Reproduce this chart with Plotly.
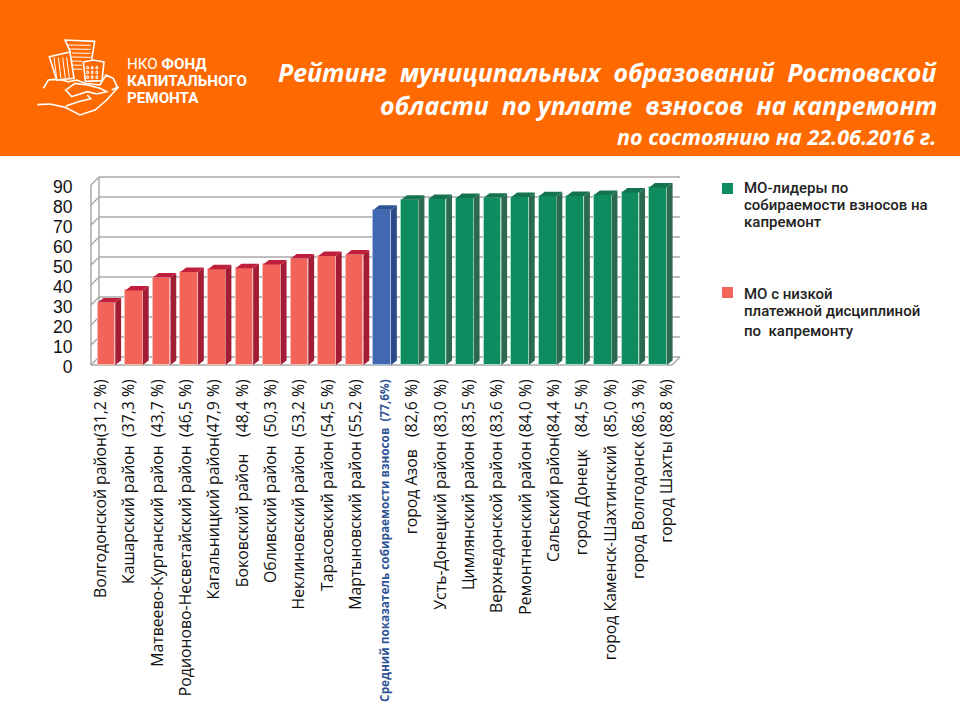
import plotly.graph_objects as go

NB = "\u00a0"
categories = [
    "Волгодонской район(31,2 %)", "Кашарский район  (37,3 %)", "Матвеево-Курганский район  (43,7 %)",
    "Родионово-Несветайский район  (46,5 %)", "Кагальницкий район(47,9 %)", "Боковский район    (48,4 %)",
    "Обливский район  (50,3 %)", "Неклиновский район  (53,2 %)", "Тарасовский район (54,5 %)",
    "Мартыновский район (55,2 %)", "Средний показатель собираемости взносов  (77,6%)", "город Азов   (82,6 %)",
    "Усть-Донецкий район (83,0 %)", "Цимлянский район (83,5 %)", "Верхнедонской район (83,6 %)",
    "Ремонтненский район (84,0 %)", "Сальский район(84,4 %)", "город Донецк   (84,5 %)",
    "город Каменск-Шахтинский  (85,0 %)", "город Волгодонск (86,3 %)", "город Шахты (88,8 %)",
]
values = [31.2, 37.3, 43.7, 46.5, 47.9, 48.4, 50.3, 53.2, 54.5, 55.2, 77.6,
          82.6, 83.0, 83.5, 83.6, 84.0, 84.4, 84.5, 85.0, 86.3, 88.8]
groups = ["low"] * 10 + ["avg"] + ["top"] * 10
y_ticks = [0, 10, 20, 30, 40, 50, 60, 70, 80, 90]
legend_top = ["МО-лидеры по", "собираемости взносов на", "капремонт"]
legend_low = ["МО с низкой", "платежной дисциплиной", "по" + NB + NB + "капремонту"]
title_lines = ["Рейтинг" + NB + NB + "муниципальных" + NB + NB + "образований" + NB + NB + "Ростовской",
               "области" + NB + NB + "по уплате" + NB + NB + "взносов" + NB + NB + "на капремонт"]
subtitle = "по состоянию на 22.06.2016 г."

COL = {
    "low": dict(front="#F2645A", edge="#F7B9B2", side="#A31C35", top="#BF1E3C"),
    "avg": dict(front="#4169B2", edge="#A9BCE0", side="#2A4A85", top="#2F5496"),
    "top": dict(front="#0F8C5F", edge="#A5DCC4", side="#2C6A50", top="#14734F"),
}
ORANGE = "#FF6A00"
GRID = "#A8A8A8"
W, H = 960, 720
PX0, PX1, PYB, PYT = 89, 683, 368, 175
UX, CAT0 = 27.575, 106.5   # px per category, px of first bar centre
UY, Y0 = 2.0, 365          # px per value unit, px of zero
WIDTH = 17.6 / UX
DX, DY = 5.8 / UX, 4.5 / UY
WX, WY = 8 / UX, 8 / UY    # depth of the chart walls
XL = (91 - CAT0) / UX
XR = (672 - CAT0) / UX
xs = list(range(len(values)))
tick_x = [((101 + i * 28.3) - CAT0) / UX for i in xs]

def fx(p): return p / W
def fy(p): return 1 - p / H

def ticklabel(i):
    t = categories[i].replace(" ", NB)
    if groups[i] == "avg":
        return '<b style="font-size:11.8px;color:#2F5496">' + t + '</b>'
    return t

fig = go.Figure()
fig.add_trace(go.Bar(x=xs, y=values, width=WIDTH,
                     marker=dict(color=[COL[g]["front"] for g in groups],
                                 line=dict(color=[COL[g]["edge"] for g in groups], width=1)),
                     showlegend=False))
for x, v, g in zip(xs, values, groups):
    r = x + WIDTH / 2
    l = x - WIDTH / 2
    fig.add_trace(go.Scatter(x=[r, r + DX, r + DX, r, r], y=[0, DY, v + DY, v, 0], mode="lines",
                             fill="toself", fillcolor=COL[g]["side"], line=dict(width=0), showlegend=False))
    fig.add_trace(go.Scatter(x=[l, l + DX, r + DX, r, l], y=[v, v + DY, v + DY, v, v], mode="lines",
                             fill="toself", fillcolor=COL[g]["top"], line=dict(width=0), showlegend=False))

shapes = [dict(type="rect", xref="paper", yref="paper", x0=0, x1=1, y0=fy(156), y1=1,
               fillcolor=ORANGE, line=dict(width=0), layer="below")]
grid_line = dict(color=GRID, width=1.5)
for t in y_ticks:
    for a, b, c, d in [(XL, t, XL + WX, t + WY), (XL + WX, t + WY, XR + WX, t + WY)]:
        shapes.append(dict(type="line", xref="x", yref="y", x0=a, y0=b, x1=c, y1=d, line=grid_line, layer="below"))
for a, b, c, d in [(XL, 0, XL, 90), (XL + WX, WY, XL + WX, 90 + WY), (XL, 0, XR, 0), (XR, 0, XR + WX, WY)]:
    shapes.append(dict(type="line", xref="x", yref="y", x0=a, y0=b, x1=c, y1=d, line=grid_line, layer="below"))

# legend swatches
shapes.append(dict(type="rect", xref="paper", yref="paper", x0=fx(722), x1=fx(733), y0=fy(194), y1=fy(183),
                   fillcolor=COL["top"]["front"], line=dict(width=0)))
shapes.append(dict(type="rect", xref="paper", yref="paper", x0=fx(722), x1=fx(733), y0=fy(298), y1=fy(287),
                   fillcolor=COL["low"]["front"], line=dict(width=0)))

# logo drawing (white line art), px/3 coordinates from the header
def logo(points, closed=False, w=1.6):
    d = ""
    for i, (a, b) in enumerate(points):
        d += ("M" if i == 0 else "L") + f"{fx(a / 3):.5f},{fy(b / 3):.5f} "
    if closed:
        d += "Z"
    shapes.append(dict(type="path", xref="paper", yref="paper", path=d, line=dict(color="white", width=w)))

logo([(212, 158), (195, 120), (284, 124), (275, 178)])
for yy in range(135, 215, 12):
    logo([(216 if yy > 150 else 204, yy), (272 if yy < 180 else 246, yy + 1)], w=1)
logo([(148, 170), (210, 156), (222, 235), (170, 240)], closed=True)
for xx in (162, 175, 188, 200):
    logo([(xx, 172), (xx + 8, 235)], w=1)
logo([(250, 186), (280, 180), (312, 186), (306, 242), (256, 244)], closed=True)
for yy in (200, 214, 228):
    for xx in (260, 274, 288):
        logo([(xx, yy), (xx + 5, yy), (xx + 5, yy + 7), (xx, yy + 7)], closed=True, w=1)
logo([(130, 265), (145, 240), (165, 238), (185, 240), (205, 245), (230, 240), (255, 250), (300, 255), (318, 225),
      (340, 235), (352, 262), (335, 270)])
logo([(200, 268), (225, 250), (262, 255), (300, 265), (320, 275), (290, 282), (262, 275), (215, 290), (195, 268)])
logo([(112, 314), (150, 312), (195, 322), (240, 345), (285, 330), (320, 300), (356, 260)])
logo([(198, 318), (235, 305), (272, 296), (262, 285)])

def note(text, x, y, size, color="white", font="Open Sans", weight=None, xanchor="left"):
    f = dict(family=font, size=size, color=color)
    if weight:
        f["weight"] = weight
    return dict(text=text, xref="paper", yref="paper", x=fx(x), y=fy(y), xanchor=xanchor, yanchor="middle",
                showarrow=False, font=f, align=xanchor)

anns = [
    note("<b><i>" + title_lines[0] + "</i></b>", 939, 72, 24.9, xanchor="right"),
    note("<b><i>" + title_lines[1] + "</i></b>", 939, 105, 24.9, xanchor="right"),
    note("<b><i>" + subtitle + "</i></b>", 938, 136, 21.5, xanchor="right"),
    note("НКО <b>ФОНД</b>", 125, 64, 15.2, font="Roboto"),
    note("<b>КАПИТАЛЬНОГО</b>", 125, 81, 15.2, font="Roboto"),
    note("<b>РЕМОНТА</b>", 125, 98, 15.2, font="Roboto"),
]
for t, y in zip(legend_top, [188, 204.5, 221.8]):
    anns.append(note(t, 741.5, y, 15, color="#222222", font="Roboto", weight=500))
for t, y in zip(legend_low, [294, 310.5, 331]):
    anns.append(note(t, 741.5, y, 15, color="#222222", font="Roboto", weight=500))

fig.update_layout(
    width=W, height=H, margin=dict(l=0, r=0, t=0, b=0), paper_bgcolor="white", plot_bgcolor="rgba(0,0,0,0)",
    showlegend=False, shapes=shapes, annotations=anns, bargap=0,
    xaxis=dict(domain=[fx(PX0), fx(PX1)], range=[(PX0 - CAT0) / UX, (PX1 - CAT0) / UX], tickmode="array",
               tickvals=tick_x, ticktext=[ticklabel(i) for i in xs], tickangle=-90, showgrid=False, zeroline=False,
               showline=False, ticks="outside", ticklen=4, tickcolor="rgba(0,0,0,0)",
               tickfont=dict(family="Open Sans", size=15.8, color="#111111"), automargin=False),
    yaxis=dict(domain=[fy(PYB), fy(PYT)], range=[(Y0 - PYB) / UY, (Y0 - PYT) / UY], tickmode="array",
               tickvals=y_ticks, ticktext=[str(t) for t in y_ticks], showgrid=False, zeroline=False, showline=False,
               ticks="outside", ticklen=12, tickcolor="rgba(0,0,0,0)", ticklabelshift=2,
               tickfont=dict(family="Liberation Sans", size=17.6, color="#111111"), automargin=False),
)
fig.write_html("out.html", post_script="document.body.style.margin='0';", config={"displayModeBar": False})
